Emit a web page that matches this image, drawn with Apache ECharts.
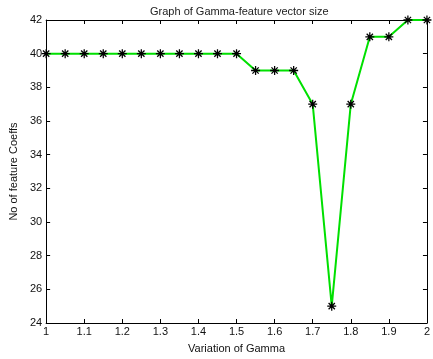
<!DOCTYPE html>
<html>
<head>
<meta charset="utf-8">
<script src="https://cdn.jsdelivr.net/npm/echarts@6/dist/echarts.min.js"></script>
<style>
  html, body { margin: 0; padding: 0; background: #fff; }
  #chart { width: 433px; height: 359px; }
</style>
</head>
<body>
<div id="chart"></div>
<script>
// gamma values on x, number of feature coeffs on y
const gammaValues = [1, 1.05, 1.1, 1.15, 1.2, 1.25, 1.3, 1.35, 1.4, 1.45, 1.5,
    1.55, 1.6, 1.65, 1.7, 1.75, 1.8, 1.85, 1.9, 1.95, 2];
const coeffCounts = [40, 40, 40, 40, 40, 40, 40, 40, 40, 40, 40,
    39, 39, 39, 37, 25, 37, 41, 41, 42, 42];

// matlab-like asterisk marker (thin arms)
const asterisk = 'path://M-0.7,-5L0.7,-5L0.7,5L-0.7,5Z M-5,-0.7L5,-0.7L5,0.7L-5,0.7Z ' +
    'M-3,-4L4,3L3,4L-4,-3Z M3,-4L4,-3L-3,4L-4,3Z';

const font = 'Liberation Sans, Arial, sans-serif';
const chart = echarts.init(document.getElementById('chart'));

const baseAxis = {
    axisLine: { show: true, onZero: false, lineStyle: { color: '#000', width: 1 } },
    axisTick: { show: true, inside: true, length: 4, lineStyle: { color: '#000' } },
    splitLine: { show: false },
    axisLabel: { color: '#111', fontSize: 11, fontFamily: font }
};

const option = {
    animation: false,
    backgroundColor: '#fff',
    title: {
        text: 'Graph of Gamma-feature vector size',
        left: 145,
        top: 1,
        textStyle: { fontSize: 11, fontWeight: 'normal', color: '#222', fontFamily: font }
    },
    grid: { left: 44, right: 4, top: 20, bottom: 36 },
    xAxis: [
        Object.assign({}, baseAxis, {
            type: 'value', min: 1, max: 2, interval: 0.1,
            name: 'Variation of Gamma',
            nameLocation: 'middle',
            nameGap: 20,
            nameTextStyle: { color: '#111', fontSize: 11, fontFamily: font },
            axisLabel: Object.assign({}, baseAxis.axisLabel, { margin: 3 })
        }),
        Object.assign({}, baseAxis, {
            type: 'value', min: 1, max: 2, interval: 0.1, position: 'top',
            axisLabel: { show: false }
        })
    ],
    yAxis: [
        Object.assign({}, baseAxis, {
            type: 'value', min: 24, max: 42, interval: 2,
            name: 'No of feature Coeffs',
            nameLocation: 'middle',
            nameGap: 24,
            nameTextStyle: { color: '#111', fontSize: 11, fontFamily: font },
            axisLabel: Object.assign({}, baseAxis.axisLabel, { margin: 4 })
        }),
        Object.assign({}, baseAxis, {
            type: 'value', min: 24, max: 42, interval: 2, position: 'right',
            axisLabel: { show: false }
        })
    ],
    series: [
        {
            type: 'line',
            data: gammaValues.map((g, i) => [g, coeffCounts[i]]),
            lineStyle: { color: '#00e000', width: 2 },
            symbol: asterisk,
            symbolSize: 9,
            showAllSymbol: true,
            itemStyle: { color: '#000' },
            emphasis: { disabled: true }
        }
    ]
};

chart.setOption(option);
</script>
</body>
</html>
